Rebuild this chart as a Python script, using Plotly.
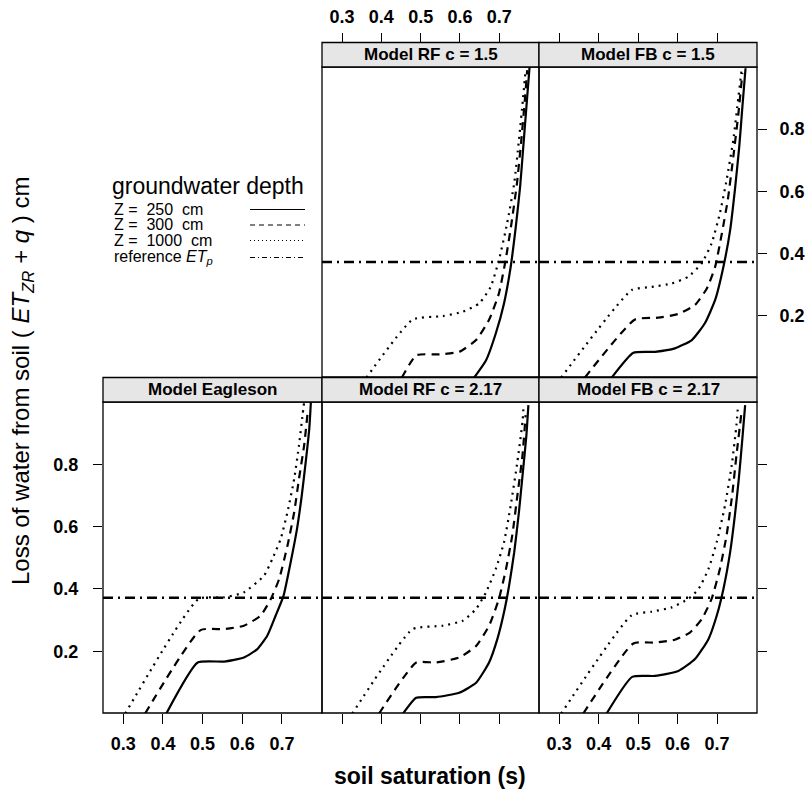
import plotly.graph_objects as go

# ---------------- data ----------------
depth_labels = ["Z =\u00a0\u00a0250\u00a0\u00a0cm", "Z =\u00a0\u00a0300\u00a0\u00a0cm", "Z =\u00a0\u00a01000\u00a0\u00a0cm"]
panel_titles = ["Model RF c = 1.5", "Model FB c = 1.5", "Model Eagleson", "Model RF c = 2.17", "Model FB c = 2.17"]
ET_p = 0.372
x_ticks = [0.3, 0.4, 0.5, 0.6, 0.7]
y_ticks = [0.2, 0.4, 0.6, 0.8]

# Model RF c = 1.5
rf15_s_250 = [0.636, 0.666, 0.691, 0.712, 0.729, 0.742, 0.753, 0.761, 0.769, 0.777]
rf15_l_250 = [0.0, 0.055, 0.142, 0.239, 0.357, 0.486, 0.615, 0.743, 0.872, 1.0]
rf15_s_300 = [0.452, 0.489, 0.548, 0.598, 0.641, 0.674, 0.699, 0.716, 0.731, 0.745, 0.756, 0.765, 0.771]
rf15_l_300 = [0.0, 0.072, 0.075, 0.083, 0.121, 0.186, 0.271, 0.378, 0.497, 0.626, 0.765, 0.894, 0.99]
rf15_s_1000 = [0.362, 0.480, 0.556, 0.607, 0.649, 0.678, 0.699, 0.720, 0.738, 0.750, 0.760, 0.767]
rf15_l_1000 = [0.0, 0.187, 0.198, 0.212, 0.239, 0.292, 0.378, 0.497, 0.626, 0.765, 0.894, 0.99]

# Model FB c = 1.5
fb15_s_250 = [0.433, 0.488, 0.543, 0.593, 0.636, 0.669, 0.695, 0.716, 0.733, 0.745, 0.756, 0.764, 0.772]
fb15_l_250 = [0.0, 0.080, 0.083, 0.094, 0.121, 0.175, 0.250, 0.357, 0.475, 0.604, 0.743, 0.872, 0.996]
fb15_s_300 = [0.365, 0.492, 0.551, 0.602, 0.644, 0.674, 0.695, 0.712, 0.727, 0.741, 0.754, 0.764]
fb15_l_300 = [0.0, 0.187, 0.193, 0.205, 0.234, 0.287, 0.357, 0.464, 0.572, 0.711, 0.851, 0.98]
fb15_s_1000 = [0.305, 0.484, 0.534, 0.585, 0.627, 0.661, 0.686, 0.707, 0.724, 0.741, 0.754, 0.762]
fb15_l_1000 = [0.0, 0.282, 0.292, 0.303, 0.325, 0.368, 0.432, 0.529, 0.636, 0.765, 0.904, 0.99]

# Model Eagleson
eag_s_250 = [0.4085, 0.4877, 0.554, 0.604, 0.638, 0.663, 0.684, 0.704, 0.722, 0.738, 0.750, 0.760, 0.769, 0.773]
eag_l_250 = [0.0, 0.164, 0.167, 0.180, 0.207, 0.250, 0.314, 0.378, 0.486, 0.593, 0.700, 0.808, 0.915, 1.0]
eag_s_300 = [0.355, 0.495, 0.554, 0.604, 0.646, 0.672, 0.693, 0.714, 0.731, 0.743, 0.756, 0.765]
eag_l_300 = [0.0, 0.268, 0.271, 0.282, 0.314, 0.368, 0.432, 0.539, 0.647, 0.754, 0.861, 0.969]
eag_s_1000 = [0.305, 0.490, 0.554, 0.604, 0.655, 0.676, 0.697, 0.714, 0.731, 0.743, 0.752, 0.756]
eag_l_1000 = [0.0, 0.368, 0.373, 0.389, 0.443, 0.497, 0.561, 0.647, 0.754, 0.861, 0.958, 1.0]

# Model RF c = 2.17
rf217_s_250 = [0.455, 0.4887, 0.539, 0.598, 0.641, 0.674, 0.695, 0.712, 0.725, 0.738, 0.750, 0.760, 0.769, 0.774]
rf217_l_250 = [0.0, 0.051, 0.053, 0.067, 0.099, 0.164, 0.239, 0.325, 0.411, 0.518, 0.647, 0.776, 0.894, 0.99]
rf217_s_300 = [0.394, 0.489, 0.539, 0.598, 0.641, 0.674, 0.699, 0.717, 0.733, 0.746, 0.759, 0.767]
rf217_l_300 = [0.0, 0.164, 0.164, 0.180, 0.217, 0.282, 0.368, 0.464, 0.572, 0.700, 0.829, 0.958]
rf217_s_1000 = [0.326, 0.480, 0.556, 0.607, 0.641, 0.666, 0.691, 0.712, 0.729, 0.746, 0.759, 0.762]
rf217_l_1000 = [0.0, 0.271, 0.282, 0.298, 0.336, 0.389, 0.464, 0.550, 0.668, 0.808, 0.936, 0.99]

# Model FB c = 2.17
fb217_s_250 = [0.420, 0.485, 0.543, 0.602, 0.644, 0.678, 0.699, 0.716, 0.733, 0.745, 0.755, 0.764, 0.771]
fb217_l_250 = [0.0, 0.118, 0.121, 0.137, 0.175, 0.239, 0.314, 0.400, 0.518, 0.636, 0.754, 0.883, 0.99]
fb217_s_300 = [0.361, 0.488, 0.543, 0.593, 0.631, 0.661, 0.686, 0.707, 0.724, 0.738, 0.749, 0.762]
fb217_l_300 = [0.0, 0.225, 0.228, 0.237, 0.260, 0.303, 0.368, 0.464, 0.572, 0.700, 0.829, 0.969]
fb217_s_1000 = [0.305, 0.484, 0.534, 0.585, 0.627, 0.653, 0.678, 0.699, 0.720, 0.737, 0.749, 0.753]
fb217_l_1000 = [0.0, 0.316, 0.327, 0.341, 0.368, 0.400, 0.464, 0.550, 0.668, 0.797, 0.926, 0.99]

panels = [
    [(rf15_s_250, rf15_l_250), (rf15_s_300, rf15_l_300), (rf15_s_1000, rf15_l_1000)],
    [(fb15_s_250, fb15_l_250), (fb15_s_300, fb15_l_300), (fb15_s_1000, fb15_l_1000)],
    [(eag_s_250, eag_l_250), (eag_s_300, eag_l_300), (eag_s_1000, eag_l_1000)],
    [(rf217_s_250, rf217_l_250), (rf217_s_300, rf217_l_300), (rf217_s_1000, rf217_l_1000)],
    [(fb217_s_250, fb217_l_250), (fb217_s_300, fb217_l_300), (fb217_s_1000, fb217_l_1000)],
]

# ---------------- layout geometry ----------------
W, H = 809, 791
def px(x): return x / W
def py(y): return 1 - y / H

col_px = {1: (103, 322), 2: (322, 539), 3: (539, 757)}
row_px = {1: (67, 377), 2: (402, 713)}
strip_h = 24.5
pos = [(2, 1), (3, 1), (1, 2), (2, 2), (3, 2)]   # (col,row) of each panel

dashes = ["solid", "8px,6px", "2px,5px"]
FONT = "Liberation Sans, Arial, Helvetica, sans-serif"
TICKFONT = dict(family=FONT, size=18, color="black", weight="bold")
x_range = [0.249, 0.801]
y_range = [0.002, 1.0]

fig = go.Figure()
shapes = []
annotations = []
layout = {}

for i, (curves, (c, r)) in enumerate(zip(panels, pos), start=1):
    xa = "x" if i == 1 else f"x{i}"
    ya = "y" if i == 1 else f"y{i}"
    for k, (s, l) in enumerate(curves):
        fig.add_trace(go.Scatter(x=s, y=l, mode="lines", xaxis=xa, yaxis=ya,
                                 line=dict(color="black", width=2.2, dash=dashes[k],
                                           shape="spline", smoothing=0.5),
                                 showlegend=False, hoverinfo="skip"))
    fig.add_trace(go.Scatter(x=x_range, y=[ET_p, ET_p], mode="lines", xaxis=xa, yaxis=ya,
                             line=dict(color="black", width=2.4, dash="10px,5px,2px,5px"),
                             showlegend=False, hoverinfo="skip"))
    x0, x1 = col_px[c]
    y0, y1 = row_px[r]
    if r == 1:
        xlabels = (c == 2)
        xax_pos = dict(anchor="free", position=py(y0 - strip_h), side="top", ticklabelstandoff=2)
    else:
        xlabels = (c in (1, 3))
        xax_pos = dict(anchor=ya, side="bottom", ticklabelstandoff=4)
    if c == 3:
        yside = "right"; yticks_on = True; ylabels = (r == 1)
    elif c == 1:
        yside = "left"; yticks_on = True; ylabels = True
    else:
        yside = "left"; yticks_on = False; ylabels = False
    xkey = "xaxis" if i == 1 else f"xaxis{i}"
    ykey = "yaxis" if i == 1 else f"yaxis{i}"
    layout[xkey] = dict(domain=[px(x0), px(x1)], range=x_range, **xax_pos,
                        tickvals=x_ticks, ticktext=[f"{v:.1f}" for v in x_ticks],
                        ticks="outside", ticklen=10, tickwidth=1, tickcolor="black",
                        showticklabels=xlabels, tickfont=TICKFONT,
                        showgrid=False, zeroline=False, showline=False, fixedrange=True)
    layout[ykey] = dict(domain=[py(y1), py(y0)], range=y_range, anchor=xa, side=yside,
                        tickvals=y_ticks if yticks_on else [], ticktext=[f"{v:.1f}" for v in y_ticks],
                        ticks="outside" if yticks_on else "", ticklen=9, tickwidth=1, tickcolor="black",
                        showticklabels=ylabels, ticklabelstandoff=11 if c == 1 else 9,
                        tickfont=TICKFONT,
                        showgrid=False, zeroline=False, showline=False, fixedrange=True)
    # panel border
    shapes.append(dict(type="rect", xref="paper", yref="paper",
                       x0=px(x0), x1=px(x1), y0=py(y1), y1=py(y0),
                       line=dict(color="black", width=1.3), layer="above"))
    # strip
    shapes.append(dict(type="rect", xref="paper", yref="paper",
                       x0=px(x0), x1=px(x1), y0=py(y0), y1=py(y0 - strip_h),
                       fillcolor="#e6e6e6", line=dict(color="black", width=1.3), layer="above"))
    annotations.append(dict(text=panel_titles[i - 1], xref="paper", yref="paper",
                            x=px((x0 + x1) / 2), y=py(y0 - strip_h / 2), showarrow=False,
                            xanchor="center", yanchor="middle",
                            font=dict(family=FONT, size=17, color="black", weight="bold")))

# legend (key) in the empty top-left cell
annotations.append(dict(text="groundwater depth", xref="paper", yref="paper", x=px(110), y=py(186),
                        xanchor="left", yanchor="middle", showarrow=False,
                        font=dict(family=FONT, size=23, color="black")))
leg_texts = depth_labels + ["reference <i>ET</i><sub><i>p</i></sub>"]
leg_y = [209.5, 225, 240.5, 257.5]
leg_dash_px = ["solid", "5px,4px", "1px,3px", "5px,3px,1px,3px"]
for t, yy, dd in zip(leg_texts, leg_y, leg_dash_px):
    annotations.append(dict(text=t, xref="paper", yref="paper", x=px(112), y=py(yy),
                            xanchor="left", yanchor="middle", showarrow=False,
                            font=dict(family=FONT, size=16, color="black")))
    shapes.append(dict(type="line", xref="paper", yref="paper", x0=px(250), x1=px(305),
                       y0=py(yy), y1=py(yy), line=dict(color="black", width=1, dash=dd)))

# axis titles
annotations.append(dict(text="soil saturation (s)", xref="paper", yref="paper", x=px(430), y=py(776),
                        xanchor="center", yanchor="middle", showarrow=False,
                        font=dict(family=FONT, size=23, color="black", weight="bold")))
annotations.append(dict(text="Loss of water from soil\u00a0(\u00a0<i>ET</i><sub><i>ZR</i></sub>\u00a0+\u00a0<i>q</i>\u00a0) cm",
                        xref="paper", yref="paper", x=px(22), y=py(381), textangle=-90,
                        xanchor="center", yanchor="middle", showarrow=False,
                        font=dict(family=FONT, size=24, color="black")))

fig.update_layout(width=W, height=H, margin=dict(l=0, r=0, t=0, b=0),
                  paper_bgcolor="white", plot_bgcolor="white",
                  shapes=shapes, annotations=annotations, **layout)

fig.write_html("out.html", config={"displayModeBar": False},
               post_script="document.body.style.margin='0';document.body.style.overflow='hidden';")
